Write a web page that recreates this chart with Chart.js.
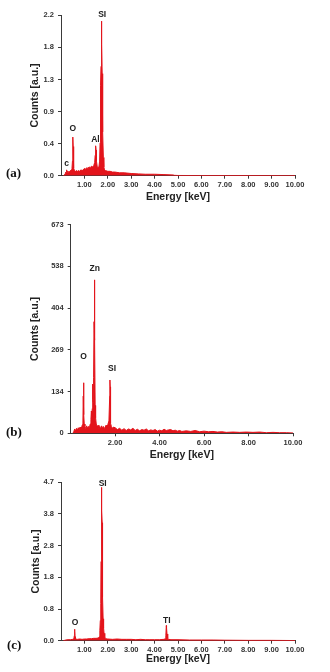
<!DOCTYPE html>
<html>
<head>
<meta charset="utf-8">
<script src="https://cdn.jsdelivr.net/npm/chart.js@4.4.1/dist/chart.umd.min.js"></script>
<style>
  html, body { margin: 0; padding: 0; background: #fff; }
  body { width: 330px; height: 672px; position: relative; overflow: hidden; }
  canvas { position: absolute; left: 0; }
  .panel { position: absolute; font: bold 13px "Liberation Serif", "DejaVu Serif", serif; color: #111; transform: translateY(-50%); }
</style>
</head>
<body>
<canvas id="ca" width="330" height="210" style="top:0px"></canvas>
<canvas id="cb" width="330" height="255" style="top:210px"></canvas>
<canvas id="cc" width="330" height="207" style="top:465px"></canvas>
<div class="panel" style="left:6px; top:173px">(a)</div>
<div class="panel" style="left:6px; top:432px">(b)</div>
<div class="panel" style="left:7px; top:645px">(c)</div>
<script>
// ---------- Panel (a) ----------
const energyA = [0.10,0.15,0.18,0.20,0.22,0.24,0.26,0.28,0.30,0.33,0.36,0.40,0.44,0.47,0.49,0.50,0.51,0.52,0.53,0.55,0.58,0.62,0.66,0.70,0.75,0.80,0.85,0.90,0.95,1.00,1.05,1.10,1.15,1.20,1.25,1.30,1.35,1.40,1.44,1.46,1.47,1.48,1.49,1.50,1.51,1.52,1.55,1.58,1.62,1.65,1.67,1.68,1.69,1.70,1.71,1.72,1.73,1.74,1.75,1.76,1.77,1.79,1.81,1.83,1.86,1.90,2.00,2.10,2.20,2.30,2.50,2.70,3.00,3.30,3.60,4.00,4.40,4.80,4.85,5.00,6.00,8.00,10.00];
const countsA = [0,0.01,0.03,0.05,0.04,0.08,0.06,0.05,0.04,0.06,0.05,0.07,0.08,0.10,0.20,0.40,0.53,0.40,0.22,0.10,0.07,0.06,0.07,0.06,0.07,0.06,0.08,0.07,0.08,0.10,0.09,0.11,0.10,0.12,0.11,0.13,0.12,0.14,0.18,0.28,0.33,0.35,0.41,0.35,0.30,0.20,0.12,0.11,0.12,0.20,0.45,0.80,1.15,1.24,1.50,1.85,2.12,1.84,1.80,1.40,1.05,0.60,0.25,0.12,0.08,0.07,0.06,0.06,0.05,0.05,0.04,0.04,0.03,0.025,0.02,0.02,0.015,0.01,0.005,0.003,0.002,0.002,0.001];
const yTickValsA = [0,0.44,0.88,1.32,1.76,2.2];
const yTickLabelsA = ['0.0','0.4','0.9','1.3','1.8','2.2'];
const xTickValsA = [1,2,3,4,5,6,7,8,9,10];
const xTickLabelsA = ['1.00','2.00','3.00','4.00','5.00','6.00','7.00','8.00','9.00','10.00'];
const peakTextA = ['SI','O','Al','c'];
const peakEnergyA = [1.76,0.50,1.47,0.24];
const peakCountA = [2.21,0.64,0.50,0.16];

// ---------- Panel (b) ----------
const energyB = [0.10,0.14,0.18,0.22,0.26,0.30,0.34,0.38,0.42,0.46,0.50,0.53,0.55,0.565,0.575,0.585,0.595,0.61,0.64,0.68,0.72,0.76,0.80,0.84,0.88,0.91,0.93,0.95,0.97,0.985,0.995,1.01,1.03,1.05,1.065,1.075,1.085,1.10,1.12,1.15,1.19,1.23,1.27,1.31,1.35,1.39,1.43,1.47,1.51,1.55,1.59,1.63,1.67,1.72,1.755,1.765,1.775,1.785,1.80,1.83,1.87,1.92,2.00,2.10,2.20,2.30,2.40,2.50,2.60,2.70,2.80,2.90,3.00,3.10,3.20,3.30,3.40,3.50,3.60,3.70,3.80,3.90,4.00,4.10,4.20,4.30,4.40,4.50,4.60,4.70,4.80,4.90,5.00,5.20,5.40,5.60,5.80,6.00,6.20,6.40,6.60,6.80,7.00,7.30,7.60,7.90,8.20,8.50,8.80,9.10,9.40,9.70,10.00];
const countsB = [0,6,14,8,16,10,18,12,20,14,22,28,40,120,163,150,60,30,22,15,24,16,22,18,30,45,72,55,80,159,110,100,180,360,495,455,300,90,50,30,20,26,15,22,14,24,16,22,15,20,26,20,28,40,120,172,150,60,32,22,16,20,18,12,16,10,15,9,14,11,16,9,13,8,12,10,14,8,11,9,12,7,10,8,13,9,11,12,8,10,7,9,6,8,6,9,5,7,5,6,4,5,3,4,3,4,3,4,2,3,2,2,1];
const yTickValsB = [0,134.6,269.2,403.8,538.4,673];
const yTickLabelsB = ['0','134','269','404','538','673'];
const xTickValsB = [2,4,6,8,10];
const xTickLabelsB = ['2.00','4.00','6.00','8.00','10.00'];
const peakTextB = ['Zn','O','SI'];
const peakEnergyB = [1.08,0.58,1.86];
const peakCountB = [532,247,210];

// ---------- Panel (c) ----------
const energyC = [0.10,0.20,0.30,0.40,0.50,0.55,0.57,0.58,0.59,0.60,0.62,0.70,0.80,0.90,1.00,1.10,1.20,1.30,1.40,1.50,1.60,1.64,1.66,1.68,1.70,1.71,1.72,1.73,1.74,1.75,1.76,1.77,1.78,1.80,1.82,1.84,1.87,1.90,2.00,2.20,2.40,2.60,2.80,3.00,3.20,3.40,3.60,3.80,4.00,4.20,4.40,4.46,4.48,4.50,4.51,4.53,4.56,4.60,4.70,5.00,5.50,6.00,6.50,7.00,8.00,9.00,10.00];
const countsC = [0,0.02,0.03,0.03,0.04,0.06,0.15,0.34,0.28,0.12,0.05,0.04,0.05,0.04,0.05,0.05,0.06,0.06,0.07,0.07,0.08,0.12,0.30,0.60,1.10,2.35,3.00,3.90,4.55,3.85,3.50,2.30,1.30,0.65,0.38,0.22,0.12,0.06,0.05,0.04,0.05,0.04,0.04,0.04,0.03,0.04,0.03,0.03,0.03,0.03,0.04,0.06,0.15,0.45,0.38,0.20,0.07,0.04,0.03,0.03,0.02,0.02,0.02,0.015,0.01,0.01,0.005];
const yTickValsC = [0,0.94,1.88,2.82,3.76,4.7];
const yTickLabelsC = ['0.0','0.8','1.8','2.8','3.8','4.7'];
const xTickValsC = [1,2,3,4,5,6,7,8,9,10];
const xTickLabelsC = ['1.00','2.00','3.00','4.00','5.00','6.00','7.00','8.00','9.00','10.00'];
const peakTextC = ['SI','O','TI'];
const peakEnergyC = [1.78,0.60,4.52];
const peakCountC = [4.67,0.55,0.59];

const AXIS = '#3a3a3a';
const RED = '#e3141b';
const TICKFONT = { family: '"Liberation Sans", Arial, sans-serif', size: 7.5, weight: 'bold' };
const TITLEFONT = { family: '"Liberation Sans", Arial, sans-serif', size: 10.5, weight: 'bold' };

const peakLabelPlugin = {
  id: 'peakLabels',
  afterDraw(chart, args, opts) {
    const ctx = chart.ctx;
    const xs = chart.scales.x, ys = chart.scales.y;
    ctx.save();
    ctx.font = 'bold 8.5px "Liberation Sans", Arial, sans-serif';
    ctx.fillStyle = '#222';
    ctx.textAlign = 'center';
    ctx.textBaseline = 'middle';
    opts.text.forEach((t, i) => {
      ctx.fillText(t, xs.getPixelForValue(opts.energy[i]), ys.getPixelForValue(opts.count[i]));
    });
    ctx.restore();
  }
};

function makeChart(id, cfg) {
  const pts = cfg.energy.map((e, i) => ({ x: e, y: cfg.counts[i] }));
  return new Chart(document.getElementById(id), {
    type: 'line',
    data: { datasets: [{ data: pts, borderColor: RED, backgroundColor: RED, borderWidth: 1, pointRadius: 0, fill: 'origin', tension: 0 }] },
    options: {
      responsive: false, animation: false, devicePixelRatio: 1,
      layout: { padding: { left: 0, top: cfg.padTop, right: cfg.padRight, bottom: 0 } },
      plugins: { legend: { display: false }, tooltip: { enabled: false },
        peakLabels: { text: cfg.peakText, energy: cfg.peakEnergy, count: cfg.peakCount } },
      scales: {
        x: {
          type: 'linear', min: 0, max: 10,
          afterBuildTicks: s => { s.ticks = cfg.xTickVals.map(v => ({ value: v })); },
          afterFit: s => { s.height = cfg.xHeight; },
          ticks: { font: TICKFONT, color: '#333', padding: 2, maxRotation: 0, autoSkip: false,
            callback: (v, i) => cfg.xTickLabels[i] },
          grid: { display: true, drawOnChartArea: false, drawTicks: true, tickLength: 3, color: AXIS },
          border: { display: true, color: AXIS, width: 1 },
          title: { display: true, text: 'Energy [keV]', font: TITLEFONT, color: '#222', padding: { top: 0, bottom: cfg.xTitlePad } }
        },
        y: {
          type: 'linear', min: 0, max: cfg.yTickVals[cfg.yTickVals.length - 1],
          afterBuildTicks: s => { s.ticks = cfg.yTickVals.map(v => ({ value: v })); },
          afterFit: s => { s.width = cfg.yWidth; },
          ticks: { font: TICKFONT, color: '#333', padding: 4, autoSkip: false,
            callback: (v, i) => cfg.yTickLabels[i] },
          grid: { display: true, drawOnChartArea: false, drawTicks: true, tickLength: 3, color: AXIS },
          border: { display: true, color: AXIS, width: 1 },
          title: { display: true, text: 'Counts [a.u.]', font: TITLEFONT, color: '#222', padding: { top: cfg.yTitlePad, bottom: 0 } }
        }
      }
    },
    plugins: [peakLabelPlugin]
  });
}

makeChart('ca', { energy: energyA, counts: countsA, yTickVals: yTickValsA, yTickLabels: yTickLabelsA,
  xTickVals: xTickValsA, xTickLabels: xTickLabelsA, peakText: peakTextA, peakEnergy: peakEnergyA, peakCount: peakCountA,
  padTop: 15.3, padRight: 35, yWidth: 61, xHeight: 34.3, xTitlePad: 7, yTitlePad: 28.7 });
makeChart('cb', { energy: energyB, counts: countsB, yTickVals: yTickValsB, yTickLabels: yTickLabelsB,
  xTickVals: xTickValsB, xTickLabels: xTickLabelsB, peakText: peakTextB, peakEnergy: peakEnergyB, peakCount: peakCountB,
  padTop: 14.7, padRight: 37, yWidth: 70.7, xHeight: 31.7, xTitlePad: 4, yTitlePad: 29.2 });
makeChart('cc', { energy: energyC, counts: countsC, yTickVals: yTickValsC, yTickLabels: yTickLabelsC,
  xTickVals: xTickValsC, xTickLabels: xTickLabelsC, peakText: peakTextC, peakEnergy: peakEnergyC, peakCount: peakCountC,
  padTop: 17.3, padRight: 35, yWidth: 61, xHeight: 31.3, xTitlePad: 6.5, yTitlePad: 30.2 });
</script>
</body>
</html>
